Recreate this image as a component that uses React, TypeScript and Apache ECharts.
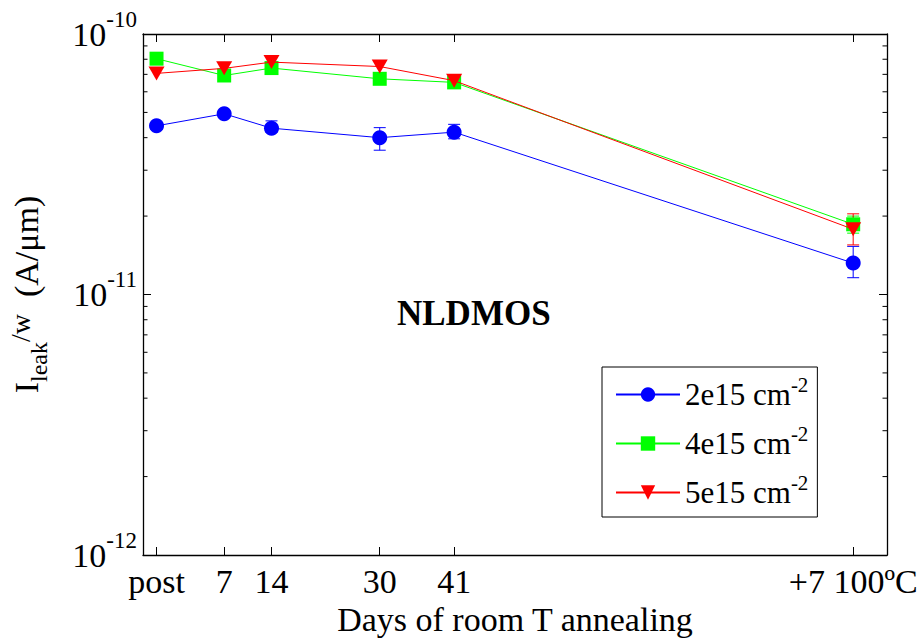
import React, { useEffect, useRef } from 'react';
import * as echarts from 'echarts';

// ---- data ----
const days = [-3, 7, 14, 30, 41, 100];
const xTickLabels = ['post', '7', '14', '30', '41', '+7 100ºC'];
const seriesNames = ['2e15', '4e15', '5e15'];
const seriesColors = ['#0000ff', '#00ff00', '#ff0000'];

const leak2e15 = [4.44e-11, 4.94e-11, 4.35e-11, 4.0e-11, 4.2e-11, 1.32e-11];
const leak4e15 = [8.04e-11, 6.93e-11, 7.4e-11, 6.73e-11, 6.52e-11, 1.86e-11];
const leak5e15 = [7.06e-11, 7.38e-11, 7.8e-11, 7.5e-11, 6.62e-11, 1.78e-11];

const err2e15Low = [null, null, 4.19e-11, 3.58e-11, 3.96e-11, 1.16e-11];
const err2e15High = [null, null, 4.64e-11, 4.37e-11, 4.5e-11, 1.53e-11];
const err4e15Low = [null, null, null, null, null, 1.72e-11];
const err4e15High = [null, null, null, null, null, 2.0e-11];
const err5e15Low = [null, null, null, null, null, 1.55e-11];
const err5e15High = [null, null, null, null, null, 2.04e-11];

const yMin = 1e-12;
const yMax = 1e-10;
const xMin = -5;
const xMax = 105;
const yMinorTicks = [
  2e-12, 3e-12, 4e-12, 5e-12, 6e-12, 7e-12, 8e-12, 9e-12,
  2e-11, 3e-11, 4e-11, 5e-11, 6e-11, 7e-11, 8e-11, 9e-11,
];

const FONT = "Liberation Serif, Times New Roman, serif";

export default function App() {
  const ref = useRef<HTMLDivElement>(null);

  useEffect(() => {
    if (!ref.current) return;
    const chart = echarts.init(ref.current, undefined, { renderer: 'svg' });

    const values = [leak2e15, leak4e15, leak5e15];
    const lows = [err2e15Low, err4e15Low, err5e15Low];
    const highs = [err2e15High, err4e15High, err5e15High];
    const symbols = ['circle', 'rect', 'triangle'];
    const symbolSizes: any[] = [15, 14, [16, 14]];
    const symbolRotates = [0, 0, 180];

    const axisLineStyle = { color: '#000', width: 1.3 };

    const errSeries = values.map((_, i) => ({
      type: 'custom',
      name: 'err' + i,
      xAxisIndex: 0,
      yAxisIndex: 0,
      z: 1,
      silent: true,
      encode: { x: 0, y: [1, 2] },
      data: days
        .map((d, k) => [d, lows[i][k], highs[i][k]])
        .filter((r) => r[1] != null && r[2] != null),
      renderItem: (params: any, api: any) => {
        const x = api.value(0);
        const p1 = api.coord([x, api.value(1)]);
        const p2 = api.coord([x, api.value(2)]);
        const hw = 6;
        const style = { stroke: seriesColors[i], lineWidth: 1 };
        return {
          type: 'group',
          children: [
            { type: 'line', shape: { x1: p1[0], y1: p1[1], x2: p2[0], y2: p2[1] }, style },
            { type: 'line', shape: { x1: p1[0] - hw, y1: p1[1], x2: p1[0] + hw, y2: p1[1] }, style },
            { type: 'line', shape: { x1: p2[0] - hw, y1: p2[1], x2: p2[0] + hw, y2: p2[1] }, style },
          ],
        };
      },
    }));

    const minorTickSeries = {
      type: 'custom',
      name: 'minor',
      xAxisIndex: 0,
      yAxisIndex: 0,
      silent: true,
      z: 3,
      encode: { x: 0, y: 1 },
      data: yMinorTicks.map((v) => [xMin, v]),
      renderItem: (params: any, api: any) => {
        const cs = params.coordSys;
        const y = api.coord([xMin, api.value(1)])[1];
        const len = 4.5;
        const style = { stroke: '#000', lineWidth: 1 };
        return {
          type: 'group',
          children: [
            { type: 'line', shape: { x1: cs.x, y1: y, x2: cs.x + len, y2: y }, style },
            { type: 'line', shape: { x1: cs.x + cs.width - len, y1: y, x2: cs.x + cs.width, y2: y }, style },
          ],
        };
      },
    };

    const lineSeries = values.map((vals, i) => ({
      type: 'line',
      name: seriesNames[i],
      xAxisIndex: 0,
      yAxisIndex: 0,
      z: 2 + i,
      data: days.map((d, k) => [d, vals[k]]),
      symbol: symbols[i],
      symbolSize: symbolSizes[i],
      symbolRotate: symbolRotates[i],
      showSymbol: true,
      lineStyle: { color: seriesColors[i], width: 1 },
      itemStyle: { color: seriesColors[i] },
    }));

    const yLabelFormatter = (v: number) => {
      const e = Math.round(Math.log10(v));
      return `{b|10}{s|${e}}`;
    };

    const option: any = {
      animation: false,
      backgroundColor: '#fff',
      textStyle: { fontFamily: FONT },
      grid: { left: 143, right: 32, top: 34, bottom: 83, containLabel: false, outerBoundsMode: 'none' },
      title: {
        text: 'NLDMOS',
        left: 397,
        top: 296,
        padding: 0,
        textStyle: { fontSize: 35, fontWeight: 'bold', fontFamily: FONT, color: '#000' },
      },
      legend: {
        orient: 'vertical',
        left: 602,
        top: 367,
        data: seriesNames,
        itemWidth: 64,
        itemHeight: 18,
        itemGap: 13,
        padding: [7, 9, 9, 13],
        borderColor: '#000',
        borderWidth: 1,
        borderRadius: 0,
        backgroundColor: '#fff',
        formatter: (name: string) => `{b|${name} cm}{s|-2}`,
        textStyle: {
          color: '#000',
          fontFamily: FONT,
          rich: {
            b: { fontSize: 31, fontFamily: FONT, color: '#000', verticalAlign: 'middle' },
            s: { fontSize: 21, fontFamily: FONT, color: '#000', verticalAlign: 'middle', padding: [0, 0, 20, 0] },
          },
        },
      },
      xAxis: [
        {
          type: 'value',
          position: 'bottom',
          min: xMin,
          max: xMax,
          splitLine: { show: false },
          axisLine: { show: true, onZero: false, lineStyle: axisLineStyle },
          axisTick: { show: true, inside: true, length: 8, customValues: days, lineStyle: { color: '#000', width: 1 } },
          axisLabel: {
            show: true,
            customValues: days,
            formatter: (v: number) => {
              const idx = days.indexOf(v);
              return idx >= 0 ? xTickLabels[idx] : '';
            },
            fontSize: 34,
            fontFamily: FONT,
            color: '#000',
            margin: 9,
            hideOverlap: false,
          },
          name: 'Days of room T annealing',
          nameLocation: 'middle',
          nameGap: 47,
          nameTextStyle: { fontSize: 34, fontFamily: FONT, color: '#000' },
        },
        {
          type: 'value',
          position: 'top',
          min: xMin,
          max: xMax,
          splitLine: { show: false },
          axisLine: { show: true, onZero: false, lineStyle: axisLineStyle },
          axisTick: { show: true, inside: true, length: 8, customValues: days, lineStyle: { color: '#000', width: 1 } },
          axisLabel: { show: false },
        },
      ],
      yAxis: [
        {
          type: 'log',
          logBase: 10,
          position: 'left',
          min: yMin,
          max: yMax,
          splitLine: { show: false },
          axisLine: { show: true, onZero: false, lineStyle: axisLineStyle },
          axisTick: { show: true, inside: true, length: 8, lineStyle: { color: '#000', width: 1 } },
          axisLabel: {
            formatter: yLabelFormatter,
            margin: 6,
            color: '#000',
            fontFamily: FONT,
            rich: {
              b: { fontSize: 34, fontFamily: FONT, color: '#000', verticalAlign: 'middle' },
              s: { fontSize: 23, fontFamily: FONT, color: '#000', verticalAlign: 'middle', padding: [0, 0, 30, 0] },
            },
          },
          name: '{b|I}{sub|leak}{sup|/w}{b|  (A/μm)}',
          nameLocation: 'middle',
          nameGap: 92,
          nameTextStyle: {
            color: '#000',
            fontFamily: FONT,
            rich: {
              b: { fontSize: 34, fontFamily: FONT, color: '#000', verticalAlign: 'middle' },
              sub: { fontSize: 24, fontFamily: FONT, color: '#000', verticalAlign: 'middle', padding: [26, 0, 0, 0] },
              sup: { fontSize: 28, fontFamily: FONT, color: '#000', verticalAlign: 'middle', padding: [0, 0, 12, 0] },
            },
          },
        },
        {
          type: 'log',
          logBase: 10,
          position: 'right',
          min: yMin,
          max: yMax,
          splitLine: { show: false },
          axisLine: { show: true, onZero: false, lineStyle: axisLineStyle },
          axisTick: { show: true, inside: true, length: 8, lineStyle: { color: '#000', width: 1 } },
          axisLabel: { show: false },
        },
      ],
      series: [...errSeries, minorTickSeries, ...lineSeries],
    };

    chart.setOption(option);
    return () => chart.dispose();
  }, []);

  return (
    <div
      ref={ref}
      style={{ position: 'fixed', left: 0, top: 0, width: 919, height: 638, background: '#fff' }}
    />
  );
}
